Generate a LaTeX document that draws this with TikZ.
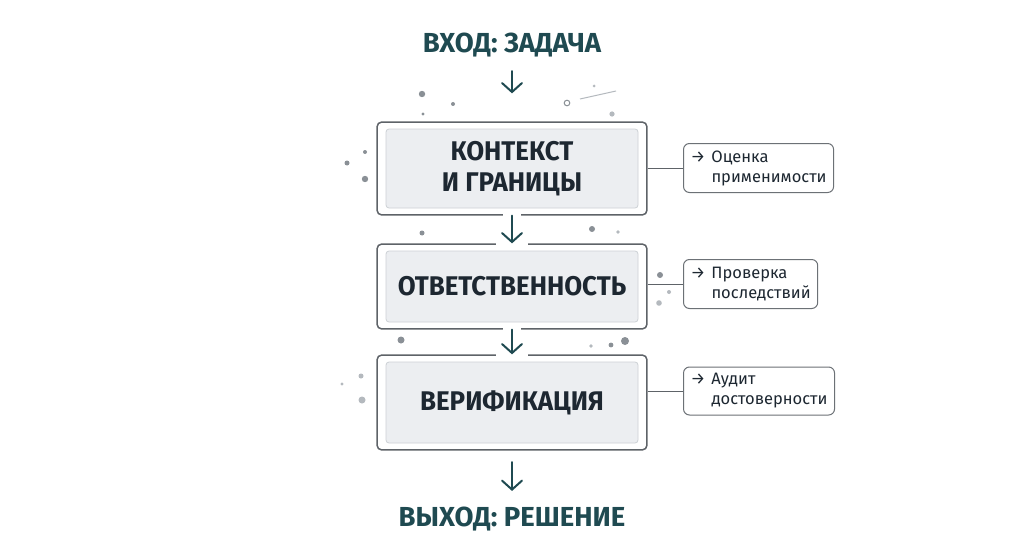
\documentclass[tikz,border=0pt]{standalone}
\usepackage{fontspec}
\setmainfont{Fira Sans}
\newfontfamily\headfont{Fira Sans}[FakeStretch=0.96]
\newfontfamily\titlefont{Fira Sans}
\usetikzlibrary{arrows.meta,fit,calc}

\definecolor{tealdark}{HTML}{1F4A51}
\definecolor{inkdark}{HTML}{1D2731}
\definecolor{framegray}{HTML}{5E6368}
\definecolor{stagefill}{HTML}{ECEEF1}
\definecolor{stageline}{HTML}{CDD1D5}
\definecolor{notegray}{HTML}{6C7176}
\definecolor{dotgray}{HTML}{8A9096}
\definecolor{dotlight}{HTML}{B4B9BE}

\tikzset{
  stage/.style={fill=stagefill, draw=stageline, line width=0.8pt,
    rounded corners=3pt, minimum width=252pt, align=center, text=inkdark,
    font=\headfont\bfseries\fontsize{27}{31}\selectfont},
  frame/.style={draw=framegray, line width=1.5pt, rounded corners=4.5pt,
    inner xsep=8.5pt, inner ysep=6.5pt},
  note/.style={draw=notegray, line width=1pt, rounded corners=6pt,
    anchor=west, align=left, inner xsep=7pt, minimum height=49pt,
    text=inkdark, font=\fontsize{16.5}{20}\selectfont},
  title/.style={anchor=base, text=tealdark,
    font=\titlefont\bfseries\fontsize{27.5}{30}\selectfont},
  flow/.style={draw=tealdark, line width=2pt, line cap=round,
    -{Straight Barb[length=9pt,width=20pt,line cap=round]}},
  link/.style={draw=framegray, line width=1pt},
  gap/.style={draw=white, line width=4pt},
}
\newcommand{\notearrow}{\makebox[21pt][l]{→}}

\begin{document}
\begin{tikzpicture}[x=1pt,y=-1pt]
\fill[white] (0,0) rectangle (1024,559);
\useasboundingbox (0,0) rectangle (1024,559);
% ---------- input / output ----------
\node[title] (inp) at (512,53) {ВХОД: ЗАДАЧА};
\node[title] (out) at (512,526) {ВЫХОД: РЕШЕНИЕ};
% ---------- stages ----------
\node[stage, minimum height=79pt] (ctx) at (512,168.5) {КОНТЕКСТ\\И ГРАНИЦЫ};
\node[frame, fit=(ctx)] (ctxf) {};
\node[stage, minimum height=71pt] (resp) at (512,286.5) {ОТВЕТСТВЕННОСТЬ};
\node[frame, fit=(resp)] (respf) {};
\node[stage, minimum height=81pt] (ver) at (512,402.5) {ВЕРИФИКАЦИЯ};
\node[frame, fit=(ver)] (verf) {};
% gaps in the frames round the arrows
\draw[gap] ($(ctxf.south)+(-9,0)$) -- ($(ctxf.south)+(9,0)$);
\draw[gap] ($(respf.north)+(-16,0)$) -- ($(respf.north)+(16,0)$);
\draw[gap] ($(respf.south)+(-9,0)$) -- ($(respf.south)+(9,0)$);
\draw[gap] ($(verf.north)+(-16,0)$) -- ($(verf.north)+(16,0)$);
% ---------- flow ----------
\draw[flow, shorten <=10pt, shorten >=28pt] (inp) -- (ctxf);
\draw[flow] (ctxf) -- (respf);
\draw[flow] (respf) -- (verf);
\draw[flow, shorten <=11.5pt, shorten >=12pt] (verf) -- (out);
% ---------- side notes ----------
\node[note] (chk1) at (683,168) {\notearrow Оценка\\\hspace{21pt}применимости};
\node[note] (chk2) at (683,284) {\notearrow Проверка\\\hspace{21pt}последствий};
\node[note, minimum height=48pt] (chk3) at (683,391) {\notearrow Аудит\\\hspace{21pt}достоверности};
\draw[link] (chk1.west -| ctxf.east) -- (chk1.west);
\draw[link] (chk2.west -| respf.east) -- (chk2.west);
\draw[link] (chk3.west -| verf.east) -- (chk3.west);
% ---------- scattered dots ----------
\foreach \px/\py/\r in {422/94/3.2, 453/104/2, 423/114/1.6, 365/152/2,
  347/163/2.5, 365/179/3.2, 422/233/2.5, 592/229/3, 660/275/3,
  401/340/3.5, 611/345/2.4, 625/341/4}
  \fill[dotgray] (\px,\py) circle (\r);
\foreach \px/\py/\r in {594/86/1.5, 612/114/2.6, 618/232/1.8, 669/292/2,
  659/303/2.8, 591/346/1.8, 361/376/2.5, 342/384/1.7, 362/400/3.5}
  \fill[dotlight] (\px,\py) circle (\r);
\draw[dotgray, line width=1pt] (567,103) circle (2.8);
\draw[dotlight, line width=1pt] (580,99) -- (616,91);
\end{tikzpicture}
\end{document}
